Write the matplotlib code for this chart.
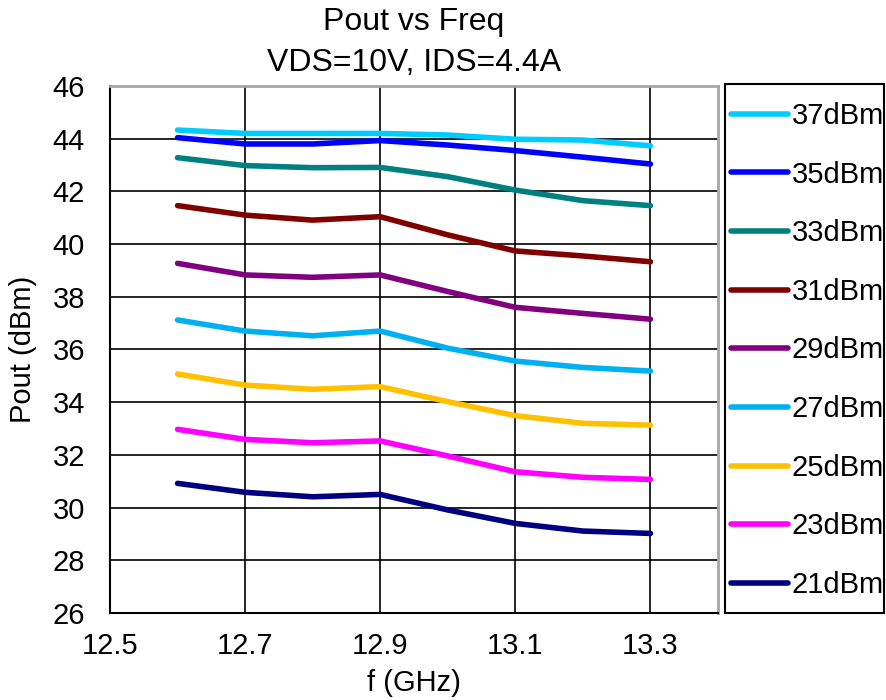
import matplotlib
matplotlib.use('Agg')
import matplotlib.pyplot as plt
from matplotlib.patches import Rectangle

plt.rcParams['font.family'] = ['Liberation Sans', 'DejaVu Sans']

freq = [12.6, 12.7, 12.8, 12.9, 13.0, 13.1, 13.2, 13.3]
pin_labels = ['37dBm', '35dBm', '33dBm', '31dBm', '29dBm', '27dBm', '25dBm', '23dBm', '21dBm']
colors = ['#00CCFF', '#0000FF', '#008080', '#800000', '#800080',
          '#00B0F0', '#FFC000', '#FF00FF', '#000080']

pout_37 = [44.33, 44.2, 44.2, 44.2, 44.14, 43.98, 43.95, 43.73]
pout_35 = [44.04, 43.8, 43.8, 43.93, 43.76, 43.55, 43.3, 43.04]
pout_33 = [43.28, 42.98, 42.9, 42.91, 42.56, 42.05, 41.65, 41.46]
pout_31 = [41.46, 41.1, 40.91, 41.04, 40.35, 39.74, 39.55, 39.33]
pout_29 = [39.27, 38.83, 38.74, 38.83, 38.2, 37.6, 37.37, 37.15]
pout_27 = [37.12, 36.7, 36.52, 36.7, 36.05, 35.56, 35.32, 35.18]
pout_25 = [35.07, 34.65, 34.49, 34.59, 34.02, 33.49, 33.2, 33.13]
pout_23 = [32.97, 32.59, 32.46, 32.53, 31.96, 31.36, 31.15, 31.07]
pout_21 = [30.92, 30.58, 30.41, 30.5, 29.91, 29.4, 29.11, 29.02]
series = [pout_37, pout_35, pout_33, pout_31, pout_29, pout_27, pout_25, pout_23, pout_21]

fig = plt.figure(figsize=(8.87, 7), dpi=100)
ax = fig.add_axes([110/887, 1-613/700, (718-110)/887, (613-86)/700])

lines = []
for y, c, lab in zip(series, colors, pin_labels):
    l, = ax.plot(freq, y, color=c, lw=4, solid_capstyle='round', label=lab, zorder=3)
    lines.append(l)

ax.set_xlim(12.5, 13.4)
ax.set_ylim(26, 46)
ax.set_xticks([12.5, 12.7, 12.9, 13.1, 13.3])
ax.set_xticklabels(['12.5', '12.7', '12.9', '13.1', '13.3'])
ax.set_yticks(range(26, 47, 2))
ax.grid(True, color='black', lw=1.2)
ax.tick_params(labelsize=21, length=0)
ax.tick_params(axis='y', pad=18)
ax.tick_params(axis='x', pad=14)
for s in ['left', 'bottom']:
    ax.spines[s].set_color('black')
    ax.spines[s].set_linewidth(1.5)
for s in ['top', 'right']:
    ax.spines[s].set_color('#A6A6A6')
    ax.spines[s].set_linewidth(2)

ax.set_xlabel('f (GHz)', fontsize=21, labelpad=6)
ax.set_ylabel('Pout (dBm)', fontsize=21, labelpad=11)
ax.set_title('Pout vs Freq\nVDS=10V, IDS=4.4A', fontsize=23, linespacing=1.45, pad=11)

# legend box
fig.patches.append(Rectangle((725/887, 1-613/700), (884-725)/887, (613-84)/700,
                             transform=fig.transFigure, fill=False,
                             edgecolor='black', lw=1.5))
leg = fig.legend(handles=lines, loc='upper left', bbox_to_anchor=(731/887, 1-102/700),
                 fontsize=21, frameon=False, labelspacing=1.05, handlelength=1.95,
                 handletextpad=0.14, borderpad=0, borderaxespad=0)

fig.savefig('out.png', dpi=100)
